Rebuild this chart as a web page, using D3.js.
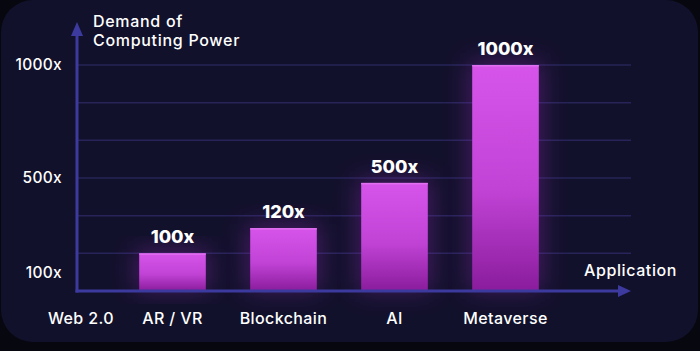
<!DOCTYPE html>
<html>
<head>
<meta charset="utf-8">
<title>Demand of Computing Power</title>
<script src="https://d3js.org/d3.v7.min.js"></script>
<style>
  html, body { margin: 0; padding: 0; background: #07070f; }
  svg { display: block; font-family: Inter, "Open Sans", sans-serif; }
</style>
</head>
<body>
<svg class="chart" width="700" height="351"></svg>
<script>
// data
const categories = ["Web 2.0", "AR / VR", "Blockchain", "AI", "Metaverse"]
const valueLabels = ["", "100x", "120x", "500x", "1000x"]
// bar height in grid steps (the picture is not drawn to scale)
const barLevels = [0, 1, 1.67, 2.87, 6]
const tickLabels = ["1000x", "500x", "100x"]
const tickLevels = [6, 3, 0.5]
const gridLevels = [1, 2, 3, 4, 5, 6]

const svg = d3.select("svg.chart")
const width = +svg.attr("width"), height = +svg.attr("height")

const axisColor = "#3c3a9e"
const gridColor = "#262458"

// panel
svg.append("rect")
  .attr("x", 1).attr("y", 0)
  .attr("width", 697).attr("height", 342)
  .attr("rx", 32)
  .attr("fill", "#12112b")

const defs = svg.append("defs")
const grad = defs.append("linearGradient")
  .attr("id", "barGrad").attr("x1", 0).attr("y1", 0).attr("x2", 0).attr("y2", 1)
grad.append("stop").attr("offset", "0%").attr("stop-color", "#d654ea")
grad.append("stop").attr("offset", "55%").attr("stop-color", "#c143d6")
grad.append("stop").attr("offset", "100%").attr("stop-color", "#8a1c9c")

const glow = defs.append("filter").attr("id", "glow")
  .attr("x", "-60%").attr("y", "-30%").attr("width", "220%").attr("height", "160%")
glow.append("feGaussianBlur").attr("stdDeviation", 12)

// scales
const x = d3.scaleBand()
  .domain(categories)
  .range([6, 561])
  .paddingInner(0.4)
  .paddingOuter(0.2)

const y = d3.scaleLinear()
  .domain([0, 6])
  .range([291, 65])

const x0 = 77, xEnd = 631

// grid lines
svg.append("g")
  .selectAll("line")
  .data(gridLevels)
  .join("line")
    .attr("x1", x0).attr("x2", xEnd)
    .attr("y1", d => y(d)).attr("y2", d => y(d))
    .attr("stroke", gridColor)
    .attr("stroke-width", 1.5)

const barData = categories.map((c, i) => ({c: c, lvl: barLevels[i], label: valueLabels[i]}))
  .filter(d => d.lvl > 0)

// glow behind bars
svg.append("g")
  .selectAll("rect")
  .data(barData)
  .join("rect")
    .attr("x", d => x(d.c) - 4)
    .attr("y", d => y(d.lvl) - 4)
    .attr("width", x.bandwidth() + 8)
    .attr("height", d => y(0) - y(d.lvl) + 4)
    .attr("fill", "#8a2bb0")
    .attr("opacity", 0.4)
    .attr("filter", "url(#glow)")

// bars
const bars = svg.append("g")
  .selectAll("g")
  .data(barData)
  .join("g")

bars.append("rect")
  .attr("x", d => x(d.c))
  .attr("y", d => y(d.lvl))
  .attr("width", x.bandwidth())
  .attr("height", d => y(0) - y(d.lvl))
  .attr("fill", "url(#barGrad)")

bars.append("rect")
  .attr("x", d => x(d.c))
  .attr("y", d => y(d.lvl))
  .attr("width", x.bandwidth())
  .attr("height", 1.5)
  .attr("fill", "#e070f0")

bars.append("text")
  .attr("x", d => x(d.c) + x.bandwidth() / 2)
  .attr("y", d => y(d.lvl) - 10)
  .attr("text-anchor", "middle")
  .attr("fill", "#ffffff")
  .attr("font-size", 18)
  .attr("font-weight", 800)
  .text(d => d.label)

// axes with arrows
svg.append("line")
  .attr("x1", x0).attr("x2", x0)
  .attr("y1", y(0) + 1.5).attr("y2", 32)
  .attr("stroke", axisColor).attr("stroke-width", 3)
svg.append("path")
  .attr("d", d3.line()([[x0 - 6, 36], [x0, 22], [x0 + 6, 36]]) + "Z")
  .attr("fill", axisColor)

svg.append("line")
  .attr("x1", x0 - 1.5).attr("x2", 622)
  .attr("y1", y(0)).attr("y2", y(0))
  .attr("stroke", axisColor).attr("stroke-width", 3)
svg.append("path")
  .attr("d", d3.line()([[618, y(0) - 6], [631, y(0)], [618, y(0) + 6]]) + "Z")
  .attr("fill", axisColor)

// y tick labels
svg.append("g")
  .selectAll("text")
  .data(tickLabels)
  .join("text")
    .attr("x", 62)
    .attr("y", (d, i) => y(tickLevels[i]))
    .attr("dy", "0.35em")
    .attr("text-anchor", "end")
    .attr("fill", "#ffffff")
    .attr("font-size", 15.5)
    .attr("font-weight", 500)
    .attr("letter-spacing", 0.3)
    .text(d => d)

// category labels
svg.append("g")
  .selectAll("text")
  .data(categories)
  .join("text")
    .attr("x", d => Math.max(x(d) + x.bandwidth() / 2, 81))
    .attr("y", 324)
    .attr("text-anchor", "middle")
    .attr("fill", "#ffffff")
    .attr("font-size", 16)
    .attr("font-weight", 500)
    .attr("letter-spacing", 0.4)
    .text(d => d)

// axis titles
const yTitle = svg.append("text")
  .attr("x", 93).attr("y", 27)
  .attr("fill", "#ffffff")
  .attr("font-size", 16)
  .attr("font-weight", 500)
  .attr("letter-spacing", 0.7)
yTitle.append("tspan").attr("x", 93).text("Demand of")
yTitle.append("tspan").attr("x", 93).attr("dy", 19).text("Computing Power")

svg.append("text")
  .attr("x", 677).attr("y", 276)
  .attr("text-anchor", "end")
  .attr("fill", "#ffffff")
  .attr("font-size", 16)
  .attr("font-weight", 500)
  .attr("letter-spacing", 0.6)
  .text("Application")
</script>
</body>
</html>
